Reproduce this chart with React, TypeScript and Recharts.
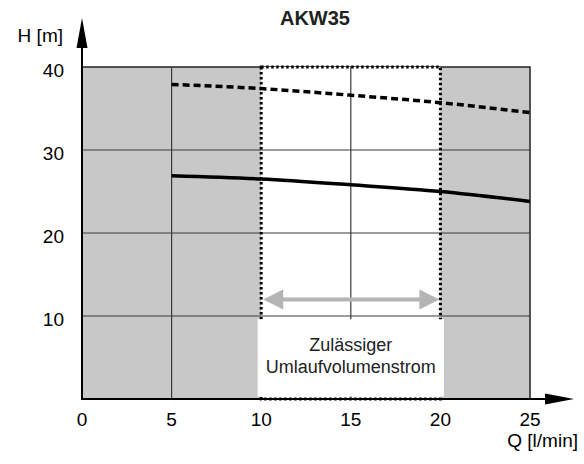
import React from "react";
import {
  ComposedChart,
  Line,
  XAxis,
  YAxis,
  ReferenceArea,
  ReferenceLine,
  ReferenceDot,
} from "recharts";

// Flow rate Q [l/min]
const qValues = [5, 10, 15, 20, 25];
// Upper (dashed) curve, head H [m]
const headMax = [37.9, 37.4, 36.6, 35.7, 34.5];
// Lower (solid) curve, head H [m]
const headPump = [26.9, 26.5, 25.8, 25.0, 23.8];

const xTicks = [0, 5, 10, 15, 20, 25];
const yTicks = [10, 20, 30, 40];
const xGrid = [5, 15];
const yGrid = [10, 20, 30];

const chartTitle = "AKW35";
const yAxisName = "H [m]";
const xAxisName = "Q [l/min]";
const boxLines = ["Zulässiger", "Umlaufvolumenstrom"];

// permitted band
const bandFrom = 10;
const bandTo = 20;
const arrowHead = 12;

const data = qValues.map((q, i) => ({ q, hMax: headMax[i], hPump: headPump[i] }));

const FONT = "'Liberation Sans', Arial, Helvetica, sans-serif";
const FS = 19;

const XTick = (props: any) => {
  const { x, y, payload } = props;
  return (
    <text x={x} y={y + 21} textAnchor="middle" fontFamily={FONT} fontSize={FS} fill="#000">
      {payload.value}
    </text>
  );
};

const YTick = (props: any) => {
  const { x, y, payload } = props;
  return (
    <text x={x - 12} y={y + 10} textAnchor="end" fontFamily={FONT} fontSize={FS} fill="#000">
      {payload.value}
    </text>
  );
};

const YAxisArrow = (props: any) => {
  const { x1, y1, y2 } = props;
  const top = Math.min(y1, y2);
  const bottom = Math.max(y1, y2);
  return (
    <g>
      <line x1={x1} y1={bottom + 1} x2={x1} y2={top - 25} stroke="#000" strokeWidth={2} />
      <polygon
        points={`${x1},${top - 49} ${x1 - 5.5},${top - 19} ${x1 + 5.5},${top - 19}`}
        fill="#000"
      />
      <text
        x={x1 - 19}
        y={top - 25}
        textAnchor="end"
        fontFamily={FONT}
        fontSize={FS}
        fill="#000"
      >
        {yAxisName}
      </text>
    </g>
  );
};

const XAxisArrow = (props: any) => {
  const { x1, x2, y1 } = props;
  const left = Math.min(x1, x2);
  const right = Math.max(x1, x2);
  return (
    <g>
      <line x1={left - 1} y1={y1} x2={right + 20} y2={y1} stroke="#000" strokeWidth={2} />
      <polygon
        points={`${right + 44},${y1} ${right + 15},${y1 - 5.5} ${right + 15},${y1 + 5.5}`}
        fill="#000"
      />
      <text
        x={right + 48}
        y={y1 + 48}
        textAnchor="end"
        fontFamily={FONT}
        fontSize={FS}
        fill="#000"
      >
        {xAxisName}
      </text>
    </g>
  );
};

const DoubleArrow = (props: any) => {
  const { x1, x2, y1 } = props;
  const l = Math.min(x1, x2) + 2;
  const r = Math.max(x1, x2) - 1;
  const hl = 20;
  const hw = 10;
  return (
    <g>
      <line x1={l + hl - 2} y1={y1} x2={r - hl + 2} y2={y1} stroke="#b4b4b4" strokeWidth={4} />
      <polygon points={`${l},${y1} ${l + hl},${y1 - hw} ${l + hl},${y1 + hw}`} fill="#b4b4b4" />
      <polygon points={`${r},${y1} ${r - hl},${y1 - hw} ${r - hl},${y1 + hw}`} fill="#b4b4b4" />
    </g>
  );
};

const BoxText = (props: any) => {
  const { cx, cy } = props;
  return (
    <g>
      {boxLines.map((t, i) => (
        <text
          key={t}
          x={cx}
          y={cy + (i === 0 ? -11 : 11) + 6.5}
          textAnchor="middle"
          fontFamily={FONT}
          fontSize={18}
          fill="#222"
        >
          {t}
        </text>
      ))}
    </g>
  );
};

export default function App() {
  return (
    <div style={{ position: "absolute", left: 0, top: 0, width: 584, height: 464, background: "#fff" }}>
      <div
        style={{
          position: "absolute",
          left: 215,
          top: 8,
          width: 200,
          textAlign: "center",
          fontFamily: FONT,
          fontWeight: "bold",
          fontSize: 20,
          lineHeight: "20px",
          color: "#222",
        }}
      >
        {chartTitle}
      </div>
      <ComposedChart
        width={584}
        height={464}
        data={data}
        margin={{ top: 67, right: 54, bottom: 35, left: 22 }}
      >
        <XAxis
          dataKey="q"
          type="number"
          domain={[0, 25]}
          ticks={xTicks}
          axisLine={false}
          tickLine={false}
          tickMargin={0}
          height={30}
          tick={<XTick />}
          interval={0}
        />
        <YAxis
          type="number"
          domain={[0, 40]}
          ticks={yTicks}
          axisLine={false}
          tickLine={false}
          tickMargin={0}
          width={60}
          tick={<YTick />}
          interval={0}
        />
        <ReferenceArea
          x1={0}
          x2={25}
          y1={0}
          y2={40}
          fill="#c8c8c8"
          fillOpacity={1}
          stroke="#222"
          strokeWidth={1.5}
          ifOverflow="visible"
          zIndex={1}
        />
        <ReferenceArea
          x1={bandFrom}
          x2={bandTo}
          y1={0}
          y2={40}
          fill="#ffffff"
          fillOpacity={1}
          stroke="none"
          ifOverflow="visible"
          zIndex={2}
        />
        {xGrid.map((x) => (
          <ReferenceLine key={"gx" + x} x={x} stroke="#3a3a3a" strokeWidth={1.2} zIndex={3} />
        ))}
        {yGrid.map((y) => (
          <ReferenceLine key={"gy" + y} y={y} stroke="#3a3a3a" strokeWidth={1.2} zIndex={3} />
        ))}
        <Line
          dataKey="hMax"
          type="monotone"
          stroke="#000"
          strokeWidth={3.5}
          strokeDasharray="7 4"
          dot={false}
          activeDot={false}
          isAnimationActive={false}
          zIndex={4}
        />
        <Line
          dataKey="hPump"
          type="monotone"
          stroke="#000"
          strokeWidth={3.5}
          dot={false}
          activeDot={false}
          isAnimationActive={false}
          zIndex={4}
        />
        <ReferenceArea
          x1={bandFrom}
          x2={bandTo}
          y1={0}
          y2={40}
          fill="none"
          fillOpacity={0}
          stroke="#000"
          strokeWidth={3}
          strokeDasharray="2.5 2.5"
          ifOverflow="visible"
          zIndex={5}
        />
        <ReferenceLine
          segment={[
            { x: bandFrom, y: arrowHead },
            { x: bandTo, y: arrowHead },
          ]}
          shape={DoubleArrow}
          ifOverflow="visible"
          zIndex={6}
        />
        <ReferenceArea
          x1={9.8}
          x2={20.2}
          y1={0.3}
          y2={9.6}
          fill="#ffffff"
          fillOpacity={1}
          stroke="none"
          ifOverflow="visible"
          zIndex={7}
        />
        <ReferenceDot x={15} y={5.2} shape={BoxText} ifOverflow="visible" zIndex={8} />
        <ReferenceLine
          segment={[
            { x: 0, y: 0 },
            { x: 0, y: 40 },
          ]}
          shape={YAxisArrow}
          ifOverflow="visible"
          zIndex={9}
        />
        <ReferenceLine
          segment={[
            { x: 0, y: 0 },
            { x: 25, y: 0 },
          ]}
          shape={XAxisArrow}
          ifOverflow="visible"
          zIndex={9}
        />
      </ComposedChart>
    </div>
  );
}
